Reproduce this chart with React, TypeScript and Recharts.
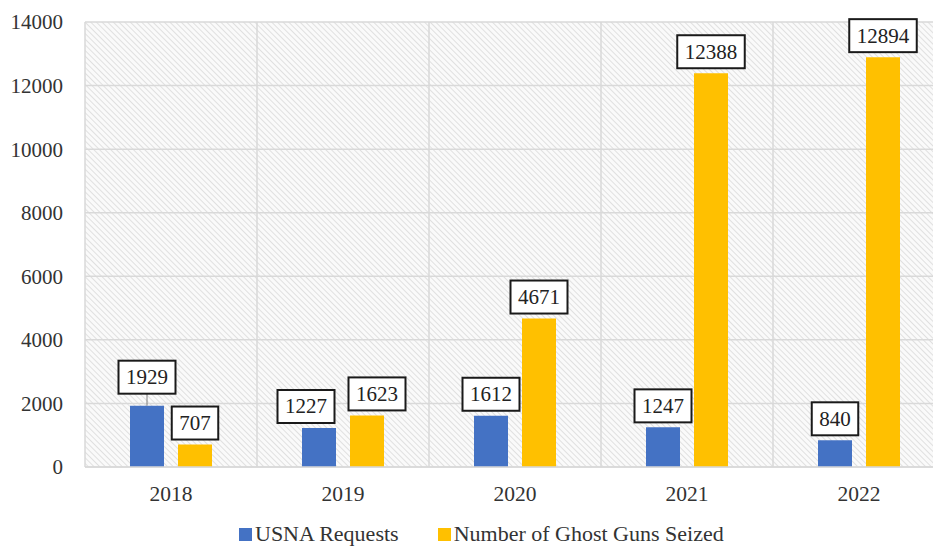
import { BarChart, Bar, XAxis, YAxis, CartesianGrid, LabelList } from "recharts";

const years = ["2018", "2019", "2020", "2021", "2022"];
const usnaRequests = [1929, 1227, 1612, 1247, 840];
const ghostGunsSeized = [707, 1623, 4671, 12388, 12894];
const yTicks = [0, 2000, 4000, 6000, 8000, 10000, 12000, 14000];

const seriesNames = ["USNA Requests", "Number of Ghost Guns Seized"];
const BLUE = "#4472C4";
const YELLOW = "#FFC000";
const FONT = "'Liberation Serif', 'DejaVu Serif', 'Times New Roman', serif";

const data = years.map((year, i) => ({
  year,
  usna: usnaRequests[i],
  ghost: ghostGunsSeized[i],
}));

// boxed value label like the Excel callouts; nudge() moves crowded ones apart
function makeBoxLabel(nudge: (index: number) => { dx: number; lift: number }) {
  return (props: any) => {
    const { x, y, width, value, index } = props;
    const text = String(value);
    const boxW = text.length * 10.5 + 15;
    const boxH = 33;
    const { dx, lift } = nudge(index);
    const barX = Number(x) + Number(width) / 2;
    const cx = barX + dx;
    const bottom = Number(y) - 5 - lift;
    return (
      <g>
        {lift > 0 && (
          <line x1={barX} y1={bottom} x2={barX} y2={Number(y)} stroke="#7f7f7f" strokeWidth={1} />
        )}
        <rect
          x={cx - boxW / 2}
          y={bottom - boxH}
          width={boxW}
          height={boxH}
          fill="#fff"
          stroke="#1a1a1a"
          strokeWidth={2}
        />
        <text
          x={cx}
          y={bottom - boxH / 2}
          textAnchor="middle"
          dominantBaseline="central"
          fontSize={21}
          fontFamily={FONT}
          fill="#222"
        >
          {text}
        </text>
      </g>
    );
  };
}

const usnaLabel = makeBoxLabel((i) =>
  i === 0 ? { dx: 0, lift: 7 } : i === 1 ? { dx: -13, lift: 0 } : { dx: 0, lift: 0 }
);
const ghostLabel = makeBoxLabel((i) => (i === 1 ? { dx: 10, lift: 0 } : { dx: 0, lift: 0 }));

const boundaries = ({ offset }: any) =>
  years.map((_, i) => offset.left + (offset.width * i) / years.length).concat(offset.left + offset.width);

export default function App() {
  return (
    <div
      style={{
        position: "fixed",
        top: 0,
        left: 0,
        width: 933,
        height: 548,
        overflow: "hidden",
        background: "#fff",
      }}
    >
      <svg width={0} height={0} style={{ position: "absolute" }}>
        <defs>
          <pattern
            id="hatch"
            width={4}
            height={4}
            patternUnits="userSpaceOnUse"
            patternTransform="rotate(-45)"
          >
            <rect width={4} height={4} fill="#fafafa" />
            <line x1={0} y1={0} x2={0} y2={4} stroke="#d2d2d2" strokeWidth={1.3} />
          </pattern>
        </defs>
      </svg>
      <BarChart
        width={960}
        height={548}
        data={data}
        margin={{ top: 22, right: 15, bottom: 51, left: 0 }}
        barGap={14}
        barCategoryGap="0%"
      >
        <CartesianGrid
          stroke="#d9d9d9"
          strokeWidth={1.5}
          fill="url(#hatch)"
          fillOpacity={1}
          verticalCoordinatesGenerator={boundaries}
        />
        <XAxis
          dataKey="year"
          height={30}
          axisLine={{ stroke: "#d9d9d9", strokeWidth: 1.5 }}
          tickLine={false}
          tickMargin={13}
          tick={{ fontSize: 21.5, fontFamily: FONT, fill: "#333" }}
        />
        <YAxis
          width={85}
          domain={[0, 14000]}
          ticks={yTicks}
          axisLine={false}
          tickLine={false}
          tickMargin={16}
          tick={{ fontSize: 21, fontFamily: FONT, fill: "#333" }}
        />
        <Bar dataKey="usna" name={seriesNames[0]} fill={BLUE} barSize={34} isAnimationActive={false}>
          <LabelList dataKey="usna" content={usnaLabel} />
        </Bar>
        <Bar dataKey="ghost" name={seriesNames[1]} fill={YELLOW} barSize={34} isAnimationActive={false}>
          <LabelList dataKey="ghost" content={ghostLabel} />
        </Bar>
      </BarChart>
      <div
        style={{
          position: "absolute",
          top: 522,
          left: 239,
          display: "flex",
          alignItems: "center",
          fontFamily: FONT,
          fontSize: 22,
          lineHeight: "24px",
          color: "#333",
          whiteSpace: "nowrap",
        }}
      >
        {seriesNames.map((name, i) => (
          <span key={name} style={{ display: "flex", alignItems: "center", marginRight: 39 }}>
            <span
              style={{
                display: "inline-block",
                width: 13,
                height: 13,
                background: i === 0 ? BLUE : YELLOW,
                marginRight: 3,
              }}
            />
            {name}
          </span>
        ))}
      </div>
    </div>
  );
}
